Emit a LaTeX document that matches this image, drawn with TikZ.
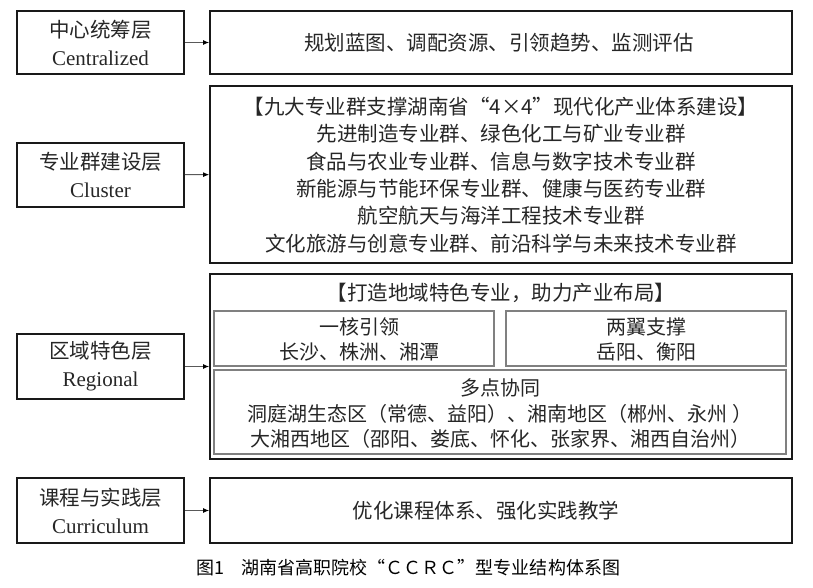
\documentclass[tikz,border=0pt]{standalone}
\usepackage{fontspec}
\setmainfont{Liberation Serif}
\newfontfamily\song{Noto Sans CJK SC}
\newfontfamily\hei{Noto Sans CJK SC}
\usetikzlibrary{arrows.meta}
\begin{document}
\begin{tikzpicture}[x=1pt,y=-1pt,
  lbox/.style={draw=black!90, line width=1.8pt, minimum width=167pt, inner sep=0pt, align=center, text=black!85, font=\fontsize{21}{28}\selectfont},
  rbox/.style={draw=black!90, line width=1.8pt, minimum width=582pt, inner sep=0pt},
  ibox/.style={draw=black!50, line width=1.2pt, inner sep=0pt},
  txt/.style={align=center, inner sep=0pt, text=black!85, font=\song\fontsize{20.5}{27.3}\selectfont},
  itxt/.style={align=center, inner sep=0pt, text=black!85, font=\song\fontsize{20}{25.5}\selectfont},
  arr/.style={draw=black!65, line width=0.9pt, -{Latex[length=6pt,width=5pt,black]}}]
\useasboundingbox (0,0) rectangle (813,588);
% left layer boxes
\node[lbox, minimum height=63pt] (c1) at (100.5,42.5) {{\song\fontsize{20.5}{28}\selectfont 中心统筹层}\\Centralized};
\node[lbox, minimum height=64pt] (c2) at (100.5,174.7) {{\song\fontsize{20.5}{28}\selectfont 专业群建设层}\\Cluster};
\node[lbox, minimum height=65pt] (c3) at (100.5,366.5) {{\song\fontsize{20.5}{28}\selectfont 区域特色层}\\Regional};
\node[lbox, minimum height=65pt] (c4) at (100.5,510.5) {{\song\fontsize{20.5}{28}\selectfont 课程与实践层}\\Curriculum};
% right boxes
\node[rbox, minimum height=63pt] (r1) at (501,42.5) {};
\node[rbox, minimum height=177pt] (r2) at (501,174.5) {};
\node[rbox, minimum height=185pt] (r3) at (501,366.5) {};
\node[rbox, minimum height=65pt] (r4) at (501,510.5) {};
% arrows
\draw[arr] (c1) -- (r1);
\draw[arr] (c2) -- (r2);
\draw[arr] (c3) -- (r3);
\draw[arr] (c4) -- (r4);
% texts
\node[txt] (t1) at (499,43) {规划蓝图、调配资源、引领趋势、监测评估};
\node[txt] (t2) at (501,175) {【九大专业群支撑湖南省“4×4”现代化产业体系建设】\\先进制造专业群、绿色化工与矿业专业群\\食品与农业专业群、信息与数字技术专业群\\新能源与节能环保专业群、健康与医药专业群\\航空航天与海洋工程技术专业群\\文化旅游与创意专业群、前沿科学与未来技术专业群};
\node[txt] (t3) at (501,293) {【打造地域特色专业，助力产业布局】};
\node[ibox, minimum width=280pt, minimum height=55pt] (i1) at (354,338.5) {};
\node[ibox, minimum width=280pt, minimum height=55pt] (i2) at (646,338.5) {};
\node[ibox, minimum width=572pt, minimum height=84pt] (i3) at (500,412) {};
\node[itxt] (i1t) at (359,339.5) {一核引领\\长沙、株洲、湘潭};
\node[itxt] (i2t) at (646,339.5) {两翼支撑\\岳阳、衡阳};
\node[itxt] (i3t) at (500,414) {多点协同\\洞庭湖生态区（常德、益阳）、湘南地区（郴州、永州 ）\\大湘西地区（邵阳、娄底、怀化、张家界、湘西自治州）};
\node[txt] (t4) at (486,511) {优化课程体系、强化实践教学};
% caption
\node[inner sep=0pt, font=\hei\fontsize{18}{20}\selectfont] (cap) at (408,568) {图1\hspace{1em}湖南省高职院校“ＣＣＲＣ”型专业结构体系图};
\end{tikzpicture}
\end{document}
